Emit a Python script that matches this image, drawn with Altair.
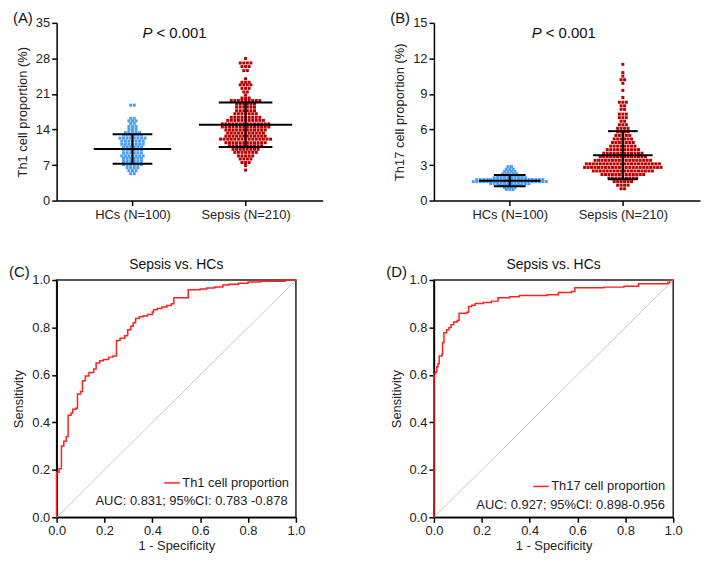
import altair as alt
import pandas as pd

# ---------------- data ----------------
# Panel A (Th1 %) beeswarm rows: value level and number of points in that row
a_hc_vals = [18.8, 16.2, 15.7, 15.2, 14.6, 14.0, 13.4, 12.9, 12.3, 11.7, 11.1, 10.6, 10.0,
             9.4, 8.8, 8.3, 7.7, 7.1, 6.5, 5.9, 5.3]
a_hc_cnts = [2, 2, 3, 2, 3, 3, 5, 6, 8, 7, 7, 6, 6, 6, 7, 6, 6, 6, 4, 3, 2]
a_sep_vals = [28.0, 27.1, 26.4, 25.6, 24.0, 23.3, 22.8, 22.1, 21.4, 20.8, 20.2, 19.7, 19.0,
              18.4, 17.7, 17.1, 16.4, 15.8, 15.1, 14.5, 13.9, 13.3, 12.7, 12.1, 11.4, 10.8,
              10.1, 9.5, 8.8, 8.2, 7.5, 6.9, 6.0]
a_sep_cnts = [1, 4, 3, 2, 1, 3, 4, 3, 2, 1, 3, 9, 6, 6, 6, 7, 9, 11, 14, 14, 12, 11, 12, 15,
              12, 10, 8, 7, 5, 4, 3, 1, 1]
# Panel B (Th17 %)
b_hc_vals = [2.87, 2.65, 2.46, 2.26, 2.10, 1.93, 1.77, 1.60, 1.43, 1.27, 1.10, 0.94]
b_hc_cnts = [2, 3, 4, 5, 8, 10, 20, 22, 12, 7, 4, 3]
b_sep_vals = [11.5, 10.8, 10.5, 10.2, 9.9, 9.3, 8.7, 8.3, 8.0, 7.7, 7.3, 7.0, 6.7, 6.4, 6.1,
              5.8, 5.5, 5.2, 4.9, 4.6, 4.3, 4.0, 3.7, 3.4, 3.1, 2.8, 2.5, 2.2, 1.9, 1.6, 1.3, 1.0]
b_sep_cnts = [1, 1, 1, 2, 1, 1, 1, 3, 2, 2, 3, 3, 2, 3, 4, 4, 5, 6, 7, 8, 10, 12, 14, 17, 22,
              23, 18, 13, 9, 6, 4, 2]

groups = ["HCs", "Sepsis"]
group_labels = ["HCs (N=100)", "Sepsis (N=210)"]
a_means = [10.15, 14.93]
a_sds = [2.9, 4.38]
b_means = [1.68, 3.83]
b_sds = [0.47, 2.03]

# ROC curves (1 - specificity, sensitivity), step vertices
fpr_c = [0, 0, 0.010, 0.020, 0.030, 0.040, 0.048, 0.060, 0.067, 0.080, 0.087, 0.100, 0.108,
         0.120, 0.135, 0.155, 0.165, 0.180, 0.195, 0.217, 0.235, 0.250, 0.265, 0.285, 0.297,
         0.31, 0.32, 0.33, 0.345, 0.36, 0.38, 0.40, 0.405, 0.42, 0.44, 0.46, 0.48, 0.49,
         0.545, 0.55, 0.60, 0.627, 0.66, 0.695, 0.72, 0.76, 0.80, 0.85, 0.94, 0.955, 1.0]
tpr_c = [0, 0.19, 0.205, 0.30, 0.32, 0.34, 0.43, 0.44, 0.455, 0.46, 0.52, 0.53, 0.575, 0.595,
         0.61, 0.625, 0.65, 0.66, 0.665, 0.675, 0.68, 0.745, 0.755, 0.765, 0.79, 0.805, 0.82,
         0.838, 0.845, 0.848, 0.855, 0.865, 0.875, 0.88, 0.886, 0.893, 0.9, 0.925, 0.925,
         0.959, 0.962, 0.966, 0.971, 0.979, 0.982, 0.986, 0.992, 0.995, 0.995, 1.0, 1.0]
fpr_d = [0, 0, 0.008, 0.012, 0.017, 0.022, 0.033, 0.036, 0.042, 0.053, 0.063, 0.072, 0.083,
         0.097, 0.105, 0.138, 0.145, 0.158, 0.172, 0.206, 0.24, 0.268, 0.316, 0.357, 0.473,
         0.52, 0.575, 0.589, 0.71, 0.794, 0.855, 0.978, 0.985, 1.0]
tpr_d = [0, 0.606, 0.613, 0.634, 0.647, 0.68, 0.686, 0.737, 0.778, 0.79, 0.80, 0.812, 0.823,
         0.829, 0.86, 0.864, 0.888, 0.894, 0.901, 0.905, 0.911, 0.925, 0.929, 0.935, 0.938,
         0.947, 0.952, 0.967, 0.97, 0.974, 0.984, 0.99, 1.0, 1.0]

# ---------------- layout / style ----------------
FONT = "Liberation Sans"
W1, H1 = 268, 179
W2, H2 = 241, 239
BLUE = "#4a9ff5"
DARKRED = "#b80000"
RED = "#ff2020"
CENTERS = [0.285, 0.71]


def swarm(vals_list, cnts_list, spacing_px):
    rows = []
    for g, cx, vals, cnts, sp in zip(groups, CENTERS, vals_list, cnts_list, spacing_px):
        for v, n in zip(vals, cnts):
            for i in range(n):
                rows.append({"x": cx + (i - (n - 1) / 2) * sp / W1, "y": v, "g": g})
    return pd.DataFrame(rows)


def bars(means, sds, mean_hw, sd_hw):
    rows = []
    for cx, m, s, mh, sh in zip(CENTERS, means, sds, mean_hw, sd_hw):
        rows.append({"x": cx - mh / W1, "x2": cx + mh / W1, "y": m, "y2": m})
        rows.append({"x": cx - sh / W1, "x2": cx + sh / W1, "y": m + s, "y2": m + s})
        rows.append({"x": cx - sh / W1, "x2": cx + sh / W1, "y": m - s, "y2": m - s})
        rows.append({"x": cx, "x2": cx, "y": m - s, "y2": m + s})
    return pd.DataFrame(rows)


def axis_common(values, **kw):
    return alt.Axis(values=values, tickCount=len(values) + 2,
                    grid=False, domainColor="black", domainWidth=1.5, tickColor="black",
                    tickWidth=1.5, tickSize=5, labelFontSize=13, labelColor="#222",
                    labelOverlap=False, labelBound=False, labelFlush=False,
                    titleFontSize=13, titleFontWeight="normal", titleColor="#222", **kw)


def text_layer(txt, **mark_kw):
    return alt.Chart(pd.DataFrame({"t": [txt]})).mark_text(font=FONT, **mark_kw)


def top_panel(df, bar_df, ymax, ystep, ytitle, letter, px, py):
    xs = alt.Scale(domain=[0, 1], nice=False, zero=False)
    ys = alt.Scale(domain=[0, ymax], nice=False)
    xaxis = axis_common(CENTERS, title=None, labelPadding=3,
                        labelExpr="datum.value < 0.5 ? '%s' : '%s'" % tuple(group_labels))
    yaxis = axis_common(list(range(0, ymax + 1, ystep)), title=ytitle, titlePadding=6)
    pts = alt.Chart(df).mark_square(size=9, opacity=1).encode(
        x=alt.X("x:Q", scale=xs, axis=xaxis),
        y=alt.Y("y:Q", scale=ys, axis=yaxis),
        color=alt.Color("g:N", scale=alt.Scale(domain=groups, range=[BLUE, DARKRED]), legend=None),
    )
    rules = alt.Chart(bar_df).mark_rule(color="black", strokeWidth=2).encode(
        x="x:Q", x2="x2:Q", y="y:Q", y2="y2:Q")
    lab = text_layer(letter, align="left", baseline="middle", fontSize=15, color="#111").encode(
        x=alt.value(-44), y=alt.value(-5), text="t:N")
    p1 = text_layer("P", align="right", baseline="middle", fontSize=15, fontStyle="italic",
                    color="#111").encode(x=alt.datum(px), y=alt.datum(py), text="t:N")
    p2 = text_layer("< 0.001", align="left", baseline="middle", fontSize=15, dx=4,
                    color="#111").encode(x=alt.datum(px), y=alt.datum(py), text="t:N")
    return alt.layer(pts, rules, lab, p1, p2).properties(
        width=W1, height=H1, view=alt.ViewBackground(stroke="transparent"))


def roc_panel(fpr, tpr, letter, name, auc_text, lx, ly, ay):
    s = alt.Scale(domain=[0, 1], nice=False)
    vals = [0, 0.2, 0.4, 0.6, 0.8, 1.0]
    df = pd.DataFrame({"fpr": fpr, "tpr": tpr, "i": list(range(len(fpr)))})
    curve = alt.Chart(df).mark_line(color=RED, strokeWidth=1.5, interpolate="step-after").encode(
        x=alt.X("fpr:Q", scale=s, axis=axis_common(vals, format=".1f",
                                                      title="1 - Specificity", titlePadding=2)),
        y=alt.Y("tpr:Q", scale=s, axis=axis_common(vals, format=".1f",
                                                      title="Sensitivity", titlePadding=6)),
        order="i:Q",
    )
    diag = alt.Chart(pd.DataFrame({"fpr": [0, 1], "tpr": [0, 1]})).mark_line(
        color="#c8c8c8", strokeWidth=1).encode(x="fpr:Q", y="tpr:Q")
    leg_line = alt.Chart(pd.DataFrame({"a": [0]})).mark_rule(color=RED, strokeWidth=1.5).encode(
        x=alt.datum(lx - 0.075), x2=alt.datum(lx - 0.01), y=alt.datum(ly))
    leg_text = text_layer(name, align="left", baseline="middle", fontSize=13,
                          color="#222").encode(x=alt.datum(lx), y=alt.datum(ly), text="t:N")
    auc = text_layer(auc_text, align="right", baseline="middle", fontSize=13,
                     color="#222").encode(x=alt.datum(0.965), y=alt.datum(ay), text="t:N")
    lab = text_layer(letter, align="left", baseline="middle", fontSize=15,
                     color="#111").encode(x=alt.value(-48), y=alt.value(-8), text="t:N")
    ttl = text_layer("Sepsis vs. HCs", align="center", baseline="middle", fontSize=14,
                     color="#111").encode(x=alt.value(W2 / 2), y=alt.value(-15), text="t:N")
    return alt.layer(diag, curve, leg_line, leg_text, auc, lab, ttl).properties(
        width=W2, height=H2,
        view=alt.ViewBackground(stroke="#222", strokeWidth=1.5))


A = top_panel(swarm([a_hc_vals, a_sep_vals], [a_hc_cnts, a_sep_cnts], [3.6, 3.6]),
              bars(a_means, a_sds, [39, 47], [20, 27]), 35, 7, "Th1 cell proportion (%)",
              "(A)", 0.36, 33.0)
B = top_panel(swarm([b_hc_vals, b_sep_vals], [b_hc_cnts, b_sep_cnts], [3.5, 3.5]),
              bars(b_means, b_sds, [31, 30], [16, 15]), 15, 3, "Th17 cell proportion (%)",
              "(B)", 0.405, 14.15)
C = roc_panel(fpr_c, tpr_c, "(C)", "Th1 cell proportion", "AUC: 0.831; 95%CI: 0.783 -0.878",
              0.525, 0.145, 0.07)
D = roc_panel(fpr_d, tpr_d, "(D)", "Th17 cell proportion", "AUC: 0.927; 95%CI: 0.898-0.956",
              0.49, 0.13, 0.05)

chart = alt.concat(A, B, C, D, columns=2,
                   spacing=alt.RowColnumber(row=35, column=62)).properties(
    padding=0
).configure(font=FONT).configure_view(stroke="transparent")

chart.save("out.html", embed_options={"renderer": "svg", "actions": False})
